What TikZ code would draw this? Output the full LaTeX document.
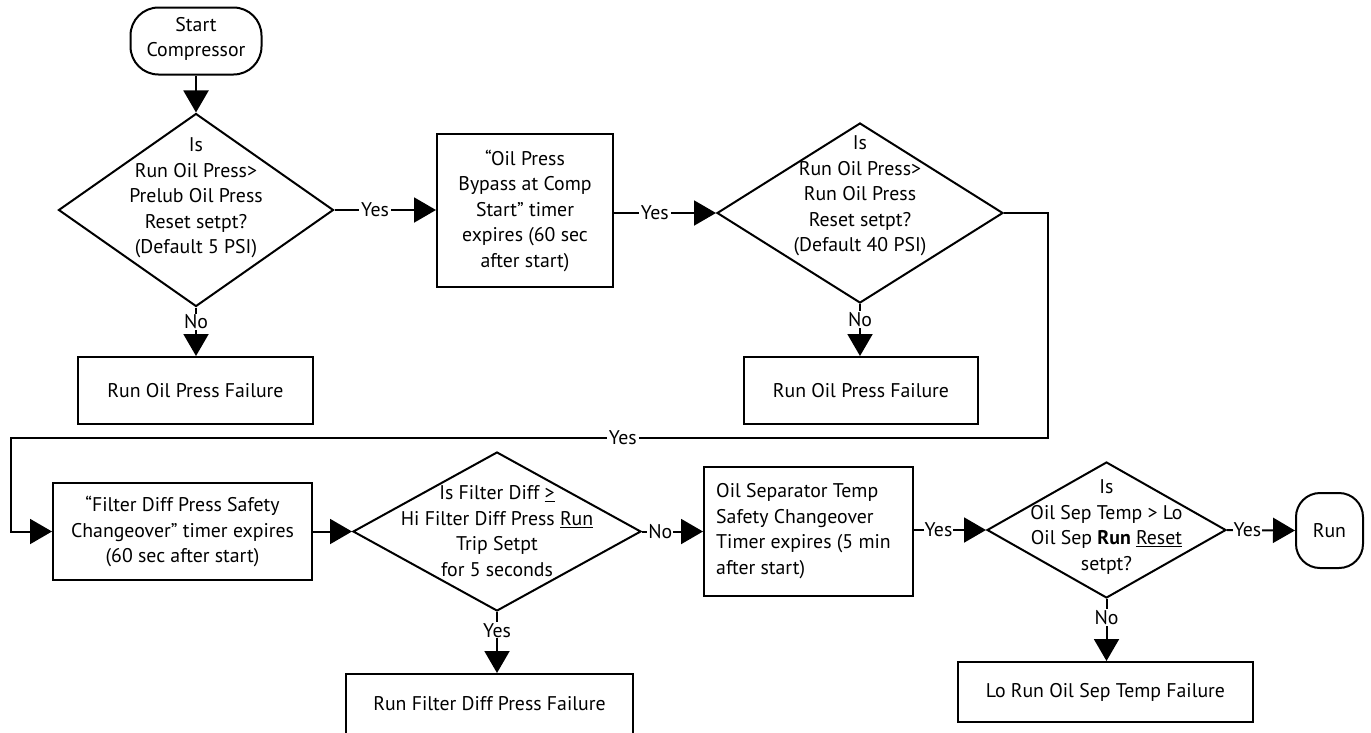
\documentclass[tikz,border=0pt]{standalone}
\usepackage{fontspec}
\setmainfont{PT Sans}
\usepackage{tikz}
\usetikzlibrary{arrows.meta, positioning, shapes.geometric, calc}
\newcommand{\chartfont}{\fontsize{19.8}{25.5}\selectfont}

\begin{document}
\begin{tikzpicture}[
    x=1pt, y=-1pt,
    every node/.style={font=\chartfont},
    box/.style={draw, line width=2pt, minimum width=#1, align=center,
                inner sep=0pt},
    term/.style={draw, line width=2pt, rounded corners=28pt, align=center,
                 inner sep=0pt},
    decision/.style={draw, diamond, line width=2pt, inner sep=0pt},
    dtext/.style={align=center, inner sep=0pt},
    arrow/.style={-{Triangle[length=22pt, width=25pt]}, line width=2pt},
    lbl/.style={fill=white, inner sep=2pt},
  ]
    \useasboundingbox (0,0) rectangle (1371,732);

    % Top row
    \node[term, minimum width=131pt, minimum height=67pt] (start) at (196,41) {};
    \node[dtext] (startt) at (196,39) {Start\\Compressor};

    \node[decision, minimum width=275pt, minimum height=193pt] (d1) at (196,210) {};
    \node[dtext] (d1t) at (196,198) {Is\\Run Oil Press>\\Prelub Oil Press\\Reset setpt?\\(Default 5 PSI)};

    \node[box=235pt, minimum height=67pt] (f1) at (195.5,390.5) {Run Oil Press Failure};

    \node[box=176pt, minimum height=153pt] (b2) at (525,210.5)
      {“Oil Press\\Bypass at Comp\\Start” timer\\expires (60 sec\\after start)};

    \node[decision, minimum width=286pt, minimum height=180pt] (d2) at (860,213) {};
    \node[dtext] (d2t) at (860,196) {Is\\Run Oil Press>\\Run Oil Press\\Reset setpt?\\(Default 40 PSI)};

    \node[box=234pt, minimum height=67pt] (f2) at (861,390.5) {Run Oil Press Failure};

    % Bottom row
    \node[box=259pt, minimum height=97pt] (b4) at (182.5,531.5)
      {“Filter Diff Press Safety\\Changeover” timer expires\\(60 sec after start)};

    \node[decision, minimum width=288pt, minimum height=159pt] (d3) at (497,531.5) {};
    \node[dtext] (d3t) at (497,531) {Is Filter Diff \underline{>}\\Hi Filter Diff Press \underline{Run}\\Trip Setpt\\for 5 seconds};

    \node[box=287pt, minimum height=67pt, anchor=north] (f3) at (489.5,673) {};
    \node[dtext] (f3t) at (489.5,704) {Run Filter Diff Press Failure};

    \node[box=209pt, minimum height=129pt] (b6) at (808.5,531.5) {};
    \node[align=left, inner sep=0pt, anchor=west] (b6t) at (716,531)
      {Oil Separator Temp\\Safety Changeover\\Timer expires (5 min\\after start)};

    \node[decision, minimum width=239pt, minimum height=136pt] (d4) at (1106.5,530) {};
    \node[dtext] (d4t) at (1106.5,527) {Is\\Oil Sep Temp > Lo\\Oil Sep \textbf{Run} \underline{Reset}\\setpt?};

    \node[term, rounded corners=24pt, minimum width=67pt, minimum height=75pt] (run) at (1329.5,530.5) {Run};

    \node[box=295pt, minimum height=60pt] (f4) at (1105.5,692) {Lo Run Oil Sep Temp Failure};

    % Connectors
    \coordinate (loopR) at (1048,438);
    \coordinate (loopL) at (11,438);

    \draw[arrow] (start) -- (d1);
    \draw[arrow] (d1.east) -- node[lbl, pos=0.4] {Yes} (b2.west |- d1.east);
    \draw[arrow] (d1.south) -- node[lbl, pos=0.3, inner sep=1pt] {No} (d1.south |- f1.north);
    \draw[arrow] (b2.east |- d2.west) -- node[lbl, pos=0.4] {Yes} (d2.west);
    \draw[arrow] (d2.south) -- node[lbl, pos=0.3, inner sep=1pt] {No} (d2.south |- f2.north);
    \draw[arrow] (d2.east) -| (loopR) -- node[lbl, pos=0.41] {Yes} (loopL) |- (b4.west);
    \draw[arrow] (b4.east) -- (d3.west);
    \draw[arrow] (d3.east) -- node[lbl, pos=0.3, inner sep=1pt] {No} (b6.west |- d3.east);
    \draw[arrow] (d3.south) -- node[lbl, pos=0.3, inner sep=1pt] {Yes} (d3.south |- f3.north);
    \draw[arrow] (b6.east |- d4.west) -- node[lbl, pos=0.34, inner sep=1pt] {Yes} (d4.west);
    \draw[arrow] (d4.east) -- node[lbl, pos=0.3, inner sep=1pt] {Yes} (run.west);
    \draw[arrow] (d4.south) -- node[lbl, pos=0.3, inner sep=1pt] {No} (d4.south |- f4.north);
\end{tikzpicture}
\end{document}
